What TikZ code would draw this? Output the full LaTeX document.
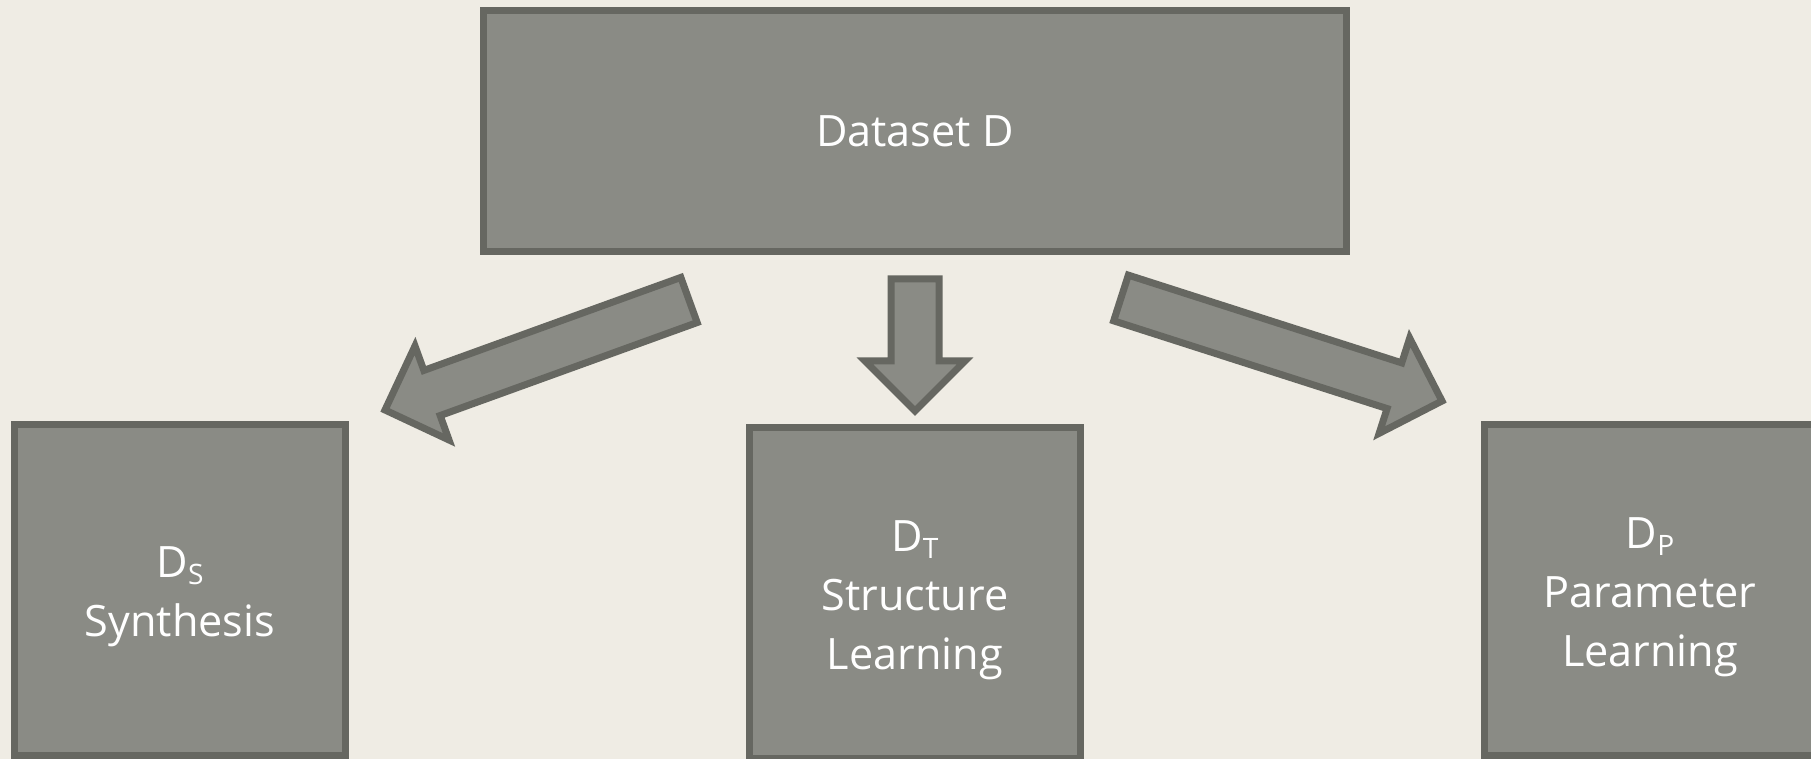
\documentclass[tikz,border=0pt]{standalone}
\usepackage{fontspec}
\setmainfont{Open Sans}
\usetikzlibrary{calc}
\definecolor{canvas}{HTML}{EFECE4}
\definecolor{boxfill}{HTML}{8A8B85}
\definecolor{boxline}{HTML}{666761}
\newcommand{\lowidx}[1]{\raisebox{-4pt}{\fontsize{16}{16}\selectfont #1}}
\newcommand{\toppad}{\rule{0pt}{0.9cm}}
\tikzset{
  block/.style={draw=boxline,fill=boxfill,line width=0.14cm,align=center,
    minimum width=6.62cm,minimum height=6.62cm,text=white,
    font=\fontsize{24.6}{33.5}\selectfont},
  blockarrow/.style={draw=boxline,fill=boxfill,line width=0.14cm}
}

\begin{document}
\begin{tikzpicture}[x=0.02cm,y=0.02cm]
  \fill[canvas] (0,0) rectangle (1811,759);
  \useasboundingbox (0,0) rectangle (1811,759);
  \node[block,minimum width=17.26cm,minimum height=4.82cm] (data) at (915,628) {Dataset D};
  \node[block] (synth) at (180,169) {\toppad D\lowidx{S}\\Synthesis};
  \node[block] (struct) at (915,166) {\toppad D\lowidx{T}\\Structure\\Learning};
  \node[block] (param) at (1650,169) {\toppad D\lowidx{P}\\Parameter\\Learning};
  % block arrow ends (tail, tip)
  \coordinate (sT) at (689,459); \coordinate (sH) at (385,349);
  \coordinate (tT) at (915,480); \coordinate (tH) at (915,348);
  \coordinate (pT) at (1121,461); \coordinate (pH) at (1442,358);
  \foreach \t/\h in {sT/sH,tT/tH,pT/pH}{
    \coordinate (c) at ($(\h)!1cm!(\t)$);
    \draw[blockarrow] ($(\t)!0.48cm!90:(\h)$) -- ($(c)!0.48cm!-90:(\t)$)
      -- ($(c)!1cm!-90:(\t)$) -- (\h) -- ($(c)!1cm!90:(\t)$)
      -- ($(c)!0.48cm!90:(\t)$) -- ($(\t)!0.48cm!-90:(\h)$) -- cycle;
  }
\end{tikzpicture}
\end{document}
